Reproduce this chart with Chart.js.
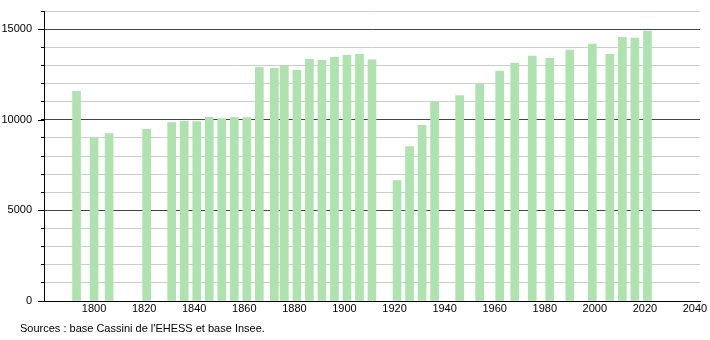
<!DOCTYPE html>
<html>
<head>
<meta charset="utf-8">
<script src="https://cdn.jsdelivr.net/npm/chart.js@4"></script>
<style>
  body { margin: 0; background: #fff; }
  #wrap { position: relative; width: 710px; height: 340px; }
  #source {
    position: absolute; left: 20px; top: 322px;
    font: 11px "Liberation Sans", Arial, sans-serif; color: #000;
  }
</style>
</head>
<body>
<div id="wrap">
  <canvas id="chart" width="710" height="340"></canvas>
  <div id="source">Sources : base Cassini de l'EHESS et base Insee.</div>
</div>
<script>
// census years and population
const years = [1793, 1800, 1806, 1821, 1831, 1836, 1841, 1846, 1851, 1856,
  1861, 1866, 1872, 1876, 1881, 1886, 1891, 1896, 1901, 1906, 1911,
  1921, 1926, 1931, 1936, 1946, 1954, 1962, 1968, 1975, 1982, 1990,
  1999, 2006, 2011, 2016, 2021];
const population = [11570, 9020, 9240, 9465, 9850, 9920, 9900, 10130, 10070, 10130,
  10120, 12890, 12840, 12950, 12730, 13340, 13280, 13450, 13550, 13610, 13300,
  6640, 8520, 9690, 10960, 11340, 11950, 12670, 13120, 13510, 13390, 13840,
  14170, 13610, 14550, 14500, 14890];
const xLabels = [1800, 1820, 1840, 1860, 1880, 1900, 1920, 1940, 1960, 1980, 2000, 2020, 2040];
const yLabels = [0, 5000, 10000, 15000];

const points = years.map((y, i) => ({ x: y, y: population[i] }));

// longer tick marks for the labelled values
const majorTicks = {
  id: "majorTicks",
  afterDraw(chart) {
    const ctx = chart.ctx;
    const yScale = chart.scales.y;
    ctx.save();
    ctx.strokeStyle = "#000";
    ctx.lineWidth = 1;
    yLabels.forEach((v) => {
      const py = Math.round(yScale.getPixelForValue(v)) + 0.5;
      ctx.beginPath();
      ctx.moveTo(yScale.right - 6, py);
      ctx.lineTo(yScale.right, py);
      ctx.stroke();
    });
    ctx.restore();
  },
};

new Chart(document.getElementById("chart"), {
  type: "bar",
  data: {
    datasets: [
      {
        data: points,
        backgroundColor: "rgb(174, 226, 174)",
        barThickness: 8,
      },
    ],
  },
  options: {
    responsive: false,
    animation: false,
    layout: { autoPadding: false, padding: { top: 11, right: 10, left: 0, bottom: 0 } },
    plugins: {
      legend: { display: false },
      title: { display: false },
      tooltip: { enabled: false },
    },
    scales: {
      x: {
        type: "linear",
        min: 1780,
        max: 2042,
        offset: false,
        grid: { display: false, drawTicks: false, offset: false },
        border: { display: true, color: "#000", width: 1 },
        ticks: {
          autoSkip: false,
          maxRotation: 0,
          padding: 1,
          color: "#000",
          font: { family: "'Liberation Sans', Arial, sans-serif", size: 11 },
          callback: (v) => String(v),
        },
        afterBuildTicks: (scale) => {
          scale.ticks = xLabels.map((v) => ({ value: v }));
        },
        afterFit: (scale) => {
          scale.height = 39;
          scale.paddingLeft = 0;
          scale.paddingRight = 0;
        },
      },
      y: {
        min: 0,
        max: 16000,
        grid: {
          color: (c) => (c.tick && c.tick.value % 5000 === 0 && c.tick.value > 0 ? "#444" : "#ccc"),
          tickColor: "#000",
          tickLength: 3,
        },
        border: { display: true, color: "#000", width: 1 },
        ticks: {
          stepSize: 1000,
          autoSkip: false,
          padding: 9,
          color: "#000",
          font: { family: "'Liberation Sans', Arial, sans-serif", size: 11 },
          callback: (v) => (yLabels.includes(v) ? String(v) : ""),
        },
        afterFit: (scale) => {
          scale.width = 44;
          scale.paddingTop = 0;
          scale.paddingBottom = 0;
        },
      },
    },
  },
  plugins: [majorTicks],
});
</script>
</body>
</html>
